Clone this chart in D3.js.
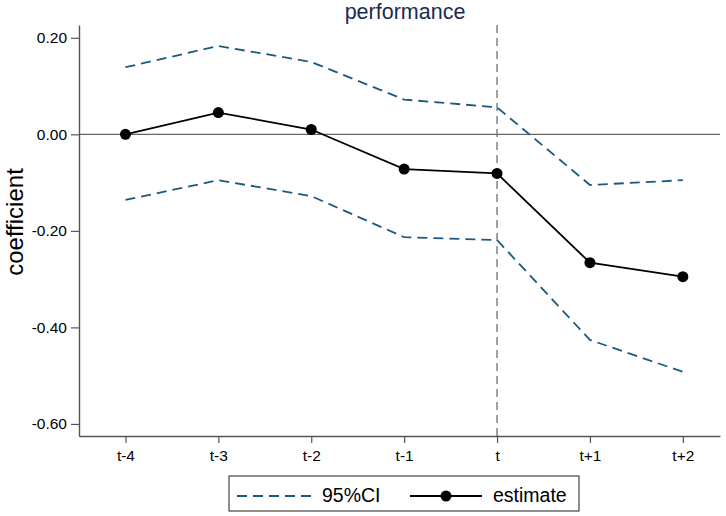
<!DOCTYPE html>
<html>
<head>
<meta charset="utf-8">
<script src="https://cdn.jsdelivr.net/npm/d3@7"></script>
<style>
  body { margin: 0; background: #fff; }
  svg { font-family: 'Liberation Sans', Arial, sans-serif; }
</style>
</head>
<body>
<svg id="chart" width="726" height="516"></svg>
<script>
// data
const periods = ['t-4', 't-3', 't-2', 't-1', 't', 't+1', 't+2'];
const estimate = [0.000, 0.045, 0.010, -0.072, -0.081, -0.266, -0.295];
const ciUpper = [0.139, 0.183, 0.150, 0.072, 0.056, -0.105, -0.095];
const ciLower = [-0.136, -0.095, -0.128, -0.213, -0.219, -0.426, -0.492];
const yTicks = [0.2, 0, -0.2, -0.4, -0.6];

const width = 726, height = 516;
const margin = { top: 25, right: 6, bottom: 80, left: 79 };
const svg = d3.select('#chart');

const x = d3.scaleLinear()
  .domain([-0.5, periods.length - 0.6])
  .range([margin.left, width - margin.right]);

const y = d3.scaleLinear()
  .domain([-0.625, 0.2265])
  .range([height - margin.bottom, margin.top]);

// Title
svg.append('text')
  .attr('x', 405)
  .attr('y', 19)
  .attr('text-anchor', 'middle')
  .style('font-size', '21.5px')
  .style('fill', '#1a2b50')
  .text('performance');

// Y axis title
svg.append('text')
  .attr('transform', `translate(23, 222) rotate(-90)`)
  .attr('text-anchor', 'middle')
  .style('font-size', '24px')
  .style('fill', '#000')
  .text('coefficient');

// zero line
svg.append('line')
  .attr('x1', margin.left).attr('x2', width - margin.right)
  .attr('y1', y(0)).attr('y2', y(0))
  .attr('stroke', '#666').attr('stroke-width', 1.2);

// vertical reference line at t
svg.append('line')
  .attr('x1', x(4)).attr('x2', x(4))
  .attr('y1', margin.top).attr('y2', height - margin.bottom)
  .attr('stroke', '#777').attr('stroke-width', 1.4)
  .attr('stroke-dasharray', '8,5');

// Y axis
svg.append('g')
  .attr('transform', `translate(${margin.left}, 0)`)
  .call(d3.axisLeft(y).tickValues(yTicks).tickFormat(d => d.toFixed(2)).tickSize(8).tickSizeOuter(0))
  .call(g => g.select('.domain').attr('stroke', '#555').attr('stroke-width', 1.4))
  .call(g => g.selectAll('.tick line').attr('stroke', '#555').attr('stroke-width', 1.2))
  .selectAll('text')
  .attr('x', -12)
  .style('font-size', '15.5px')
  .style('fill', '#000');

// X axis
svg.append('g')
  .attr('transform', `translate(0, ${height - margin.bottom})`)
  .call(d3.axisBottom(x).tickValues(d3.range(periods.length)).tickFormat(i => periods[i]).tickSize(7).tickSizeOuter(0))
  .call(g => g.select('.domain').attr('stroke', '#555').attr('stroke-width', 1.4))
  .call(g => g.selectAll('.tick line').attr('stroke', '#555').attr('stroke-width', 1.2))
  .selectAll('text')
  .attr('y', 14)
  .style('font-size', '15.5px')
  .style('fill', '#000');

const line = d3.line().x((d, i) => x(i)).y(d => y(d));

// CI bands
[ciUpper, ciLower].forEach(s => {
  svg.append('path')
    .datum(s)
    .attr('d', line)
    .attr('fill', 'none')
    .attr('stroke', '#1b5a80')
    .attr('stroke-width', 1.8)
    .attr('stroke-dasharray', '10,6');
});

// estimate
svg.append('path')
  .datum(estimate)
  .attr('d', line)
  .attr('fill', 'none')
  .attr('stroke', '#000')
  .attr('stroke-width', 1.8);

svg.append('g')
  .selectAll('circle')
  .data(estimate)
  .join('circle')
  .attr('cx', (d, i) => x(i))
  .attr('cy', d => y(d))
  .attr('r', 5.5)
  .attr('fill', '#000');

// Legend
const lg = svg.append('g').attr('transform', 'translate(229, 476)');
lg.append('rect')
  .attr('width', 350).attr('height', 35)
  .attr('fill', '#fff').attr('stroke', '#444').attr('stroke-width', 1.2);
lg.append('line')
  .attr('x1', 8).attr('x2', 82).attr('y1', 20).attr('y2', 20)
  .attr('stroke', '#1b5a80').attr('stroke-width', 1.8).attr('stroke-dasharray', '10,6');
lg.append('text')
  .attr('x', 93).attr('y', 26)
  .style('font-size', '19.5px')
  .text('95%CI');
lg.append('line')
  .attr('x1', 181).attr('x2', 253).attr('y1', 20).attr('y2', 20)
  .attr('stroke', '#000').attr('stroke-width', 1.8);
lg.append('circle')
  .attr('cx', 217).attr('cy', 20).attr('r', 5.5).attr('fill', '#000');
lg.append('text')
  .attr('x', 264).attr('y', 26)
  .style('font-size', '19.5px')
  .text('estimate');
</script>
</body>
</html>
